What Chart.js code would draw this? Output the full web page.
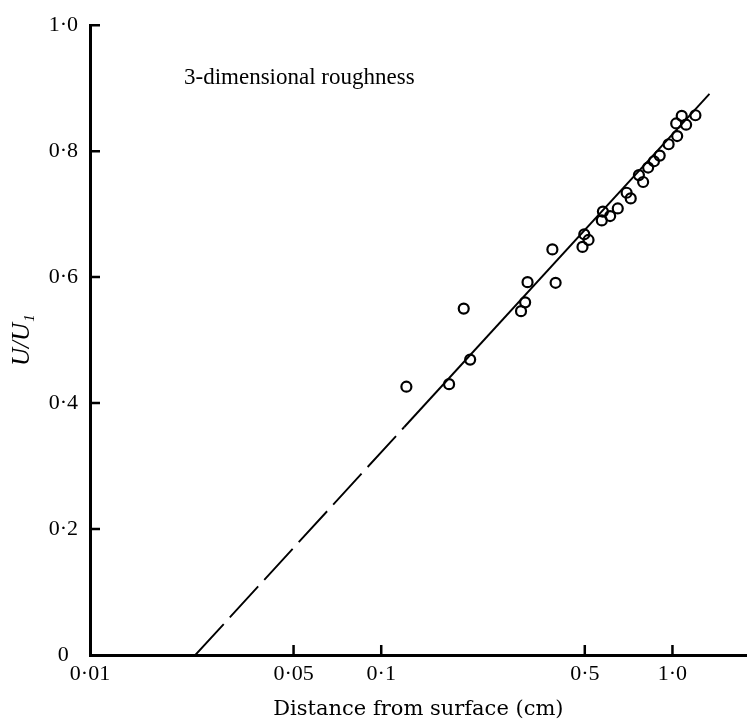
<!DOCTYPE html>
<html>
<head>
<meta charset="utf-8">
<title>3-dimensional roughness</title>
<script src="https://cdn.jsdelivr.net/npm/chart.js@4.4.1/dist/chart.umd.min.js"></script>
<style>
  html, body { margin: 0; padding: 0; background: #fff; }
  canvas { display: block; }
</style>
</head>
<body>
<canvas id="grafico" width="754" height="724"></canvas>
<script>
// 1. Datos
const distancia = [0.122, 0.171, 0.192, 0.202, 0.302, 0.312, 0.318, 0.387, 0.397, 0.491,
                   0.498, 0.515, 0.577, 0.572, 0.611, 0.649, 0.696, 0.719, 0.767, 0.793,
                   0.825, 0.864, 0.904, 0.970, 1.038, 1.030, 1.076, 1.114, 1.199];
const velocidad = [0.426, 0.430, 0.550, 0.469, 0.546, 0.560, 0.592, 0.644, 0.591, 0.648,
                   0.668, 0.659, 0.704, 0.690, 0.697, 0.709, 0.734, 0.725, 0.762, 0.751,
                   0.774, 0.784, 0.793, 0.811, 0.824, 0.844, 0.856, 0.842, 0.857];

// recta ajustada: tramo a trazos y tramo continuo
const rectaTrazosX = [0.023, 0.12];
const rectaTrazosY = [0, 0.362];
const rectaX = [0.12, 1.34];
const rectaY = [0.362, 0.891];

const xTickValores = [0.01, 0.05, 0.1, 0.5, 1.0];
const xTickTextos = ['0·01', '0·05', '0·1', '0·5', '1·0'];
const yTickValores = [0, 0.2, 0.4, 0.6, 0.8, 1.0];
const yTickTextos = ['0', '0·2', '0·4', '0·6', '0·8', '1·0'];

const serif = '"Liberation Serif", "Times New Roman", serif';

function pares(xs, ys) {
    return xs.map((x, i) => ({ x: x, y: ys[i] }));
}

// 2. Marcas de escala hacia dentro y texto del grafico
const marcasInternas = {
    id: 'marcasInternas',
    afterDraw(chart) {
        const c = chart.ctx;
        const area = chart.chartArea;
        const sx = chart.scales.x;
        const sy = chart.scales.y;
        c.save();
        c.strokeStyle = '#000';
        c.lineWidth = 2.5;
        c.beginPath();
        xTickValores.slice(1).forEach(v => {
            const px = sx.getPixelForValue(v);
            c.moveTo(px, area.bottom);
            c.lineTo(px, area.bottom - 10);
        });
        yTickValores.slice(1).forEach(v => {
            const py = sy.getPixelForValue(v);
            c.moveTo(area.left, py);
            c.lineTo(area.left + 10, py);
        });
        c.stroke();

        c.fillStyle = '#000';
        c.font = '23px ' + serif;
        c.textBaseline = 'middle';
        c.fillText('3-dimensional roughness', area.left + 94, 78);
        c.restore();
    }
};

// 3. Grafico
window.onload = function () {
    const ctx = document.getElementById('grafico');

    new Chart(ctx, {
        type: 'scatter',
        data: {
            datasets: [
                {
                    data: pares(distancia, velocidad),
                    pointStyle: 'circle',
                    pointRadius: 5,
                    pointBorderWidth: 2.2,
                    borderColor: '#000',
                    backgroundColor: 'rgba(255,255,255,0)',
                    showLine: false
                },
                {
                    type: 'line',
                    data: pares(rectaTrazosX, rectaTrazosY),
                    borderColor: '#000',
                    borderWidth: 1.9,
                    borderDash: [42, 9],
                    pointRadius: 0,
                    fill: false
                },
                {
                    type: 'line',
                    data: pares(rectaX, rectaY),
                    borderColor: '#000',
                    borderWidth: 1.9,
                    pointRadius: 0,
                    fill: false
                }
            ]
        },
        options: {
            responsive: false,
            animation: false,
            layout: { padding: { top: 16, right: 2, left: 0, bottom: 0 } },
            plugins: {
                legend: { display: false },
                tooltip: { enabled: false }
            },
            scales: {
                x: {
                    type: 'logarithmic',
                    min: 0.01,
                    max: 1.8,
                    afterBuildTicks: s => { s.ticks = xTickValores.map(v => ({ value: v })); },
                    afterFit: s => { s.height = 69; },
                    grid: { display: false, drawTicks: false },
                    border: { display: true, width: 3, color: '#000' },
                    ticks: {
                        autoSkip: false,
                        maxRotation: 0,
                        padding: 6,
                        color: '#000',
                        font: { family: serif, size: 22 },
                        callback: (v, i) => xTickTextos[i]
                    },
                    title: {
                        display: true,
                        text: 'Distance from surface (cm)',
                        color: '#000',
                        font: { family: '"DejaVu Serif", serif', size: 21 },
                        padding: { top: 0, bottom: 2 }
                    }
                },
                y: {
                    min: 0,
                    max: 1,
                    afterBuildTicks: s => { s.ticks = yTickValores.map(v => ({ value: v })); },
                    afterFit: s => { s.width = 90; },
                    grid: { display: false, drawTicks: false },
                    border: { display: true, width: 3, color: '#000' },
                    ticks: {
                        crossAlign: 'center',
                        padding: 12,
                        color: '#000',
                        font: { family: serif, size: 22 },
                        callback: (v, i) => yTickTextos[i]
                    },
                    title: {
                        display: true,
                        text: 'U/U₁',
                        color: '#000',
                        font: { family: serif, size: 25, style: 'italic' },
                        padding: { top: 7, bottom: 0 }
                    }
                }
            }
        },
        plugins: [marcasInternas]
    });
};
</script>
</body>
</html>
